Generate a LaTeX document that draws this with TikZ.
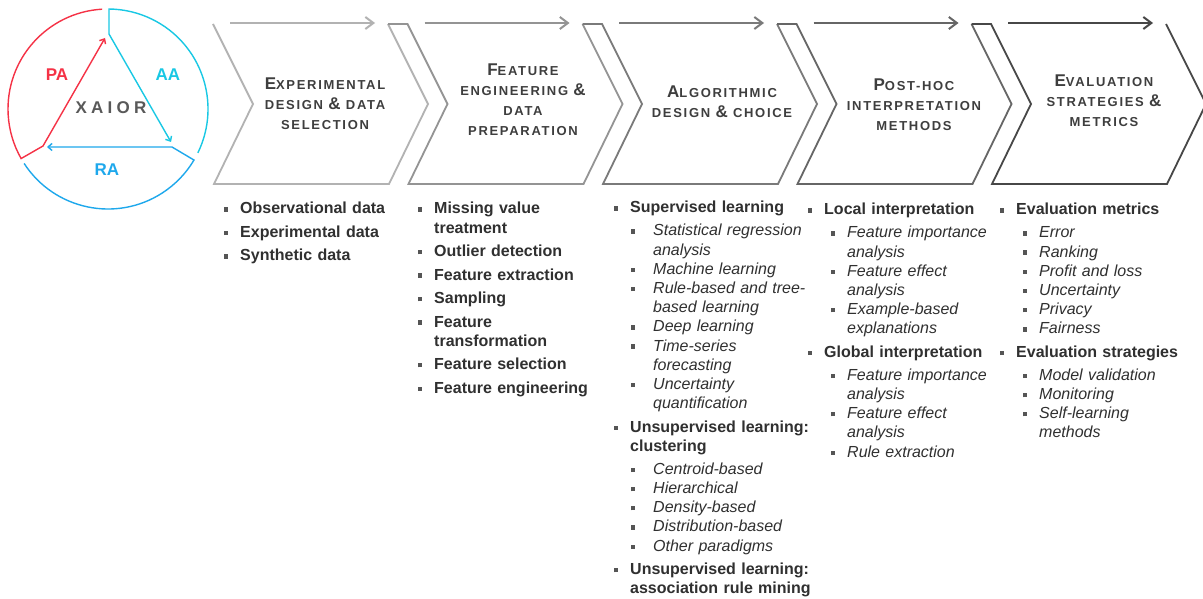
\documentclass[tikz,border=0pt]{standalone}
\usepackage{fontspec}
\setmainfont{Liberation Sans}
\newfontfamily\spacedfont[LetterSpace=13]{Liberation Sans}
\newfontfamily\logofont[LetterSpace=25]{Liberation Sans}
\usepackage{enumitem}
\usetikzlibrary{arrows.meta}

\definecolor{pared}{RGB}{245,50,70}
\definecolor{aacyan}{RGB}{25,200,228}
\definecolor{rablue}{RGB}{30,168,236}
\definecolor{titlegray}{RGB}{62,62,62}
\definecolor{itemgray}{RGB}{48,48,48}
\definecolor{bulletgray}{RGB}{85,85,85}

\newcommand{\sqbullet}{\textcolor{bulletgray}{\rule[2.3pt]{4.3pt}{4.3pt}}}
\newcommand{\capl}[1]{{\fontsize{17}{20}\selectfont #1}}

\setlist[itemize,1]{label=\sqbullet, leftmargin=14pt, labelsep=12pt, itemsep=4.3pt, topsep=0pt, partopsep=0pt, parsep=0pt}
\setlist[itemize,2]{label=\sqbullet, leftmargin=23pt, labelsep=12pt, itemsep=0pt, topsep=3.8pt, partopsep=0pt, parsep=0pt, before=\normalfont\itshape}

\tikzset{
    steplist/.style={anchor=north west, inner sep=0pt, text width=220pt, align=left, text=itemgray,
        font=\fontsize{16}{19.2}\selectfont\bfseries},
    steptitle/.style={align=center, inner sep=0pt, text=titlegray,
        font=\spacedfont\bfseries\fontsize{13}{20}\selectfont},
    logolabel/.style={font=\fontsize{17}{20}\selectfont\bfseries}
}

\begin{document}
\begin{tikzpicture}[x=1pt, y=-1pt]
    \useasboundingbox (0,0) rectangle (1203,599);
    \fill[white] (0,0) rectangle (1203,599);

    % XAIOR logo
    \draw[pared, line width=1.4pt, -{Straight Barb[length=4pt,width=7pt]}]
        (108,109) ++(-93.4:100) arc[start angle=-93.4, end angle=-209.7, radius=100]
        -- (43,146) -- (105,38);
    \draw[aacyan, line width=1.4pt, -{Straight Barb[length=4pt,width=7pt]}]
        (108,109) ++(26:100) arc[start angle=26, end angle=-89.4, radius=100]
        -- (109,34) -- (171,142);
    \draw[rablue, line width=1.4pt, -{Straight Barb[length=4pt,width=7pt]}]
        (108,109) ++(-213:100) arc[start angle=-213, end angle=-329.3, radius=100]
        -- (172,147) -- (47,147);
    \node[logolabel, text=pared] (pa) at (57,75) {PA};
    \node[logolabel, text=aacyan] (aa) at (168,75) {AA};
    \node[logolabel, text=rablue] (ra) at (107,170) {RA};
    \node[font=\logofont\bfseries\fontsize{17}{20}\selectfont, text=black!65] (xaior) at (111,108) {XAIOR};

    % chevrons
    \foreach \k/\shade in {0/30,1/42,2/52,3/60,4/72} {
        \pgfmathsetmacro{\xo}{213+194.5*\k}
        \ifnum\k=0
            \draw[black!\shade, line width=1.8pt, line join=miter]
                (\xo,24) -- (\xo+40,104) -- (\xo+1,184) -- (\xo+176,184) -- (\xo+215,104) -- (\xo+175,24);
        \else
            \draw[black!\shade, line width=1.8pt, line join=miter]
                (\xo-19.5,24) -- (\xo,24) -- (\xo+40,104) -- (\xo+1,184) -- (\xo+176,184) -- (\xo+215,104) -- (\xo+175,24);
        \fi
        \draw[black!\shade, line width=2pt, -{Straight Barb[length=8pt,width=12pt]}] (\xo+17,23) -- (\xo+162,23);
    }

    \node[steptitle] (tdesign) at (325,104) {\capl{E}XPERIMENTAL\\DESIGN \capl{\&} DATA\\SELECTION};
    \node[steptitle] (tfeature) at (523,99.5) {\capl{F}EATURE\\ENGINEERING \capl{\&}\\DATA\\PREPARATION};
    \node[steptitle] (talgo) at (722,101.5) {\capl{A}LGORITHMIC\\DESIGN \capl{\&} CHOICE};
    \node[steptitle] (tposthoc) at (914,104.5) {\capl{P}OST-HOC\\INTERPRETATION\\METHODS};
    \node[steptitle] (teval) at (1104,101) {\capl{E}VALUATION\\STRATEGIES \capl{\&}\\METRICS};

    % lists under the chevrons
    \node[steplist] (ldesign) at (226,194.5) {%
        \begin{itemize}
            \item Observational data
            \item Experimental data
            \item Synthetic data
        \end{itemize}};
    \node[steplist] (lfeature) at (420,194.5) {%
        \begin{itemize}
            \item Missing value\\treatment
            \item Outlier detection
            \item Feature extraction
            \item Sampling
            \item Feature\\transformation
            \item Feature selection
            \item Feature engineering
        \end{itemize}};
    \node[steplist] (lalgo) at (616,193.5) {%
        \setlist*[itemize,2]{labelsep=18pt}%
        \begin{itemize}
            \item Supervised learning
            \begin{itemize}
                \item Statistical regression\\analysis
                \item Machine learning
                \item Rule-based and tree-\\based learning
                \item Deep learning
                \item Time-series\\forecasting
                \item Uncertainty\\quantification
            \end{itemize}
            \item Unsupervised learning:\\clustering
            \begin{itemize}
                \item Centroid-based
                \item Hierarchical
                \item Density-based
                \item Distribution-based
                \item Other paradigms
            \end{itemize}
            \item Unsupervised learning:\\association rule mining
        \end{itemize}};
    \node[steplist] (lposthoc) at (810,195.5) {%
        \begin{itemize}
            \item Local interpretation
            \begin{itemize}
                \item Feature importance\\analysis
                \item Feature effect\\analysis
                \item Example-based\\explanations
            \end{itemize}
            \item Global interpretation
            \begin{itemize}
                \item Feature importance\\analysis
                \item Feature effect\\analysis
                \item Rule extraction
            \end{itemize}
        \end{itemize}};
    \node[steplist] (leval) at (1002,195.5) {%
        \begin{itemize}
            \item Evaluation metrics
            \begin{itemize}
                \item Error
                \item Ranking
                \item Profit and loss
                \item Uncertainty
                \item Privacy
                \item Fairness
            \end{itemize}
            \item Evaluation strategies
            \begin{itemize}
                \item Model validation
                \item Monitoring
                \item Self-learning\\methods
            \end{itemize}
        \end{itemize}};
\end{tikzpicture}
\end{document}
